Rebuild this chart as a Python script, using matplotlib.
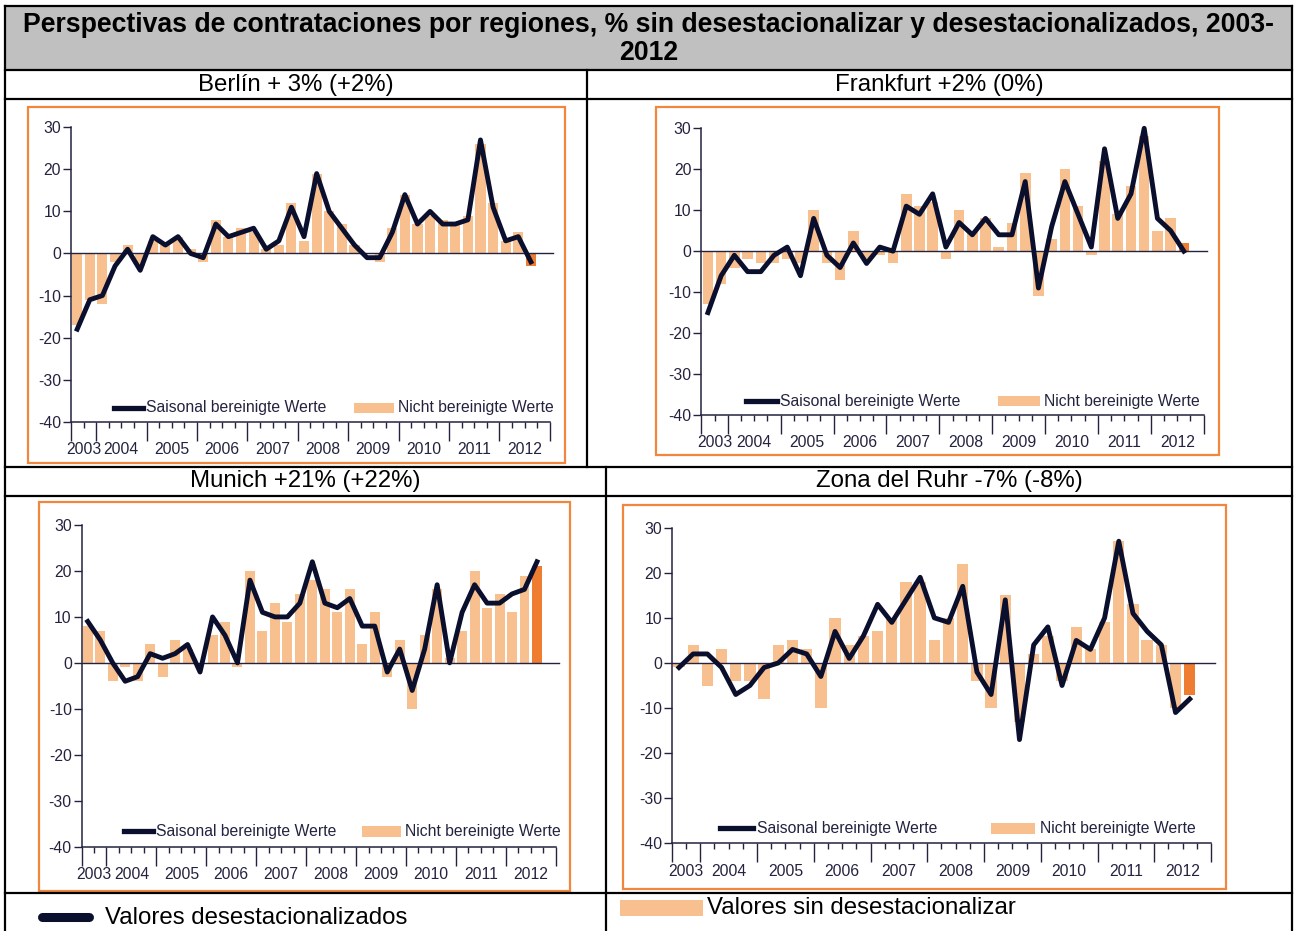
import numpy as np
import matplotlib
matplotlib.use('Agg')
import matplotlib.pyplot as plt
from matplotlib.patches import Rectangle

plt.rcParams['font.family'] = ['Liberation Sans', 'DejaVu Sans']

W, H = 1296, 931

# quarterly values, Q3 2003 .. Q3 2012
berlin_sa = [-18, -11, -10, -3, 1, -4, 4, 2, 4, 0, -1, 7, 4, 5, 6, 1, 3, 11, 4, 19,
             10, 6, 2, -1, -1, 5, 14, 7, 10, 7, 7, 8, 27, 11, 3, 4, -2]
berlin_nsa = [-17, -11, -12, -2, 2, -3, 3, 2, 4, 1, -2, 8, 4, 6, 5, 1, 2, 12, 3, 19,
              10, 7, 2, 0, -2, 6, 14, 7, 9, 8, 7, 9, 26, 12, 3, 5, -3]

frankfurt_sa = [-15, -6, -1, -5, -5, -1, 1, -6, 8, -1, -4, 2, -3, 1, 0, 11, 9, 14, 1, 7,
                4, 8, 4, 4, 17, -9, 6, 17, 9, 1, 25, 8, 14, 30, 8, 5, 0]
frankfurt_nsa = [-13, -8, -4, -2, -3, -3, -2, -3, 10, -3, -7, 5, -2, -1, -3, 14, 11, 12, -2, 10,
                 5, 8, 1, 7, 19, -11, 3, 20, 11, -1, 22, 9, 16, 28, 5, 8, 2]

munich_sa = [9, 5, 0, -4, -3, 2, 1, 2, 4, -2, 10, 6, 0, 18, 11, 10, 10, 13, 22, 13,
             12, 14, 8, 8, -2, 3, -6, 3, 17, 0, 11, 17, 13, 13, 15, 16, 22]
munich_nsa = [8, 7, -4, -1, -4, 4, -3, 5, 3, 0, 6, 9, -1, 20, 7, 13, 9, 15, 18, 16,
              11, 16, 4, 11, -3, 5, -10, 6, 16, 1, 7, 20, 12, 15, 11, 19, 21]

ruhr_sa = [-1, 2, 2, -1, -7, -5, -1, 0, 3, 2, -3, 7, 1, 6, 13, 9, 14, 19, 10, 9,
           17, -2, -7, 14, -17, 4, 8, -5, 5, 3, 10, 27, 11, 7, 4, -11, -8]
ruhr_nsa = [-1, 4, -5, 3, -4, -4, -8, 4, 5, 3, -10, 10, 4, 6, 7, 10, 18, 18, 5, 10,
            22, -4, -10, 15, -13, 2, 6, -4, 8, 3, 9, 27, 13, 5, 4, -10, -7]

years = ['2003', '2004', '2005', '2006', '2007', '2008', '2009', '2010', '2011', '2012']
quarters_per_year = [2, 4, 4, 4, 4, 4, 4, 4, 4, 4]
yticks = [30, 20, 10, 0, -10, -20, -30, -40]

title_1 = 'Perspectivas de contrataciones por regiones, % sin desestacionalizar y desestacionalizados, 2003-'
title_2 = '2012'
panel_titles = ['Berlín + 3% (+2%)', 'Frankfurt +2% (0%)', 'Munich +21% (+22%)', 'Zona del Ruhr -7% (-8%)']
legend_sa = 'Saisonal bereinigte Werte'
legend_nsa = 'Nicht bereinigte Werte'
foot_sa = 'Valores desestacionalizados'
foot_nsa = 'Valores sin desestacionalizar'

navy = '#0b0f2e'
axis_col = '#23233f'
peach = '#f9c08f'
dark_orange = '#ee7d31'
box_orange = '#f0873c'

fig = plt.figure(figsize=(W / 100, H / 100), dpi=100)

# table frame drawn in pixel coordinates
bg = fig.add_axes([0, 0, 1, 1])
bg.set_xlim(0, W)
bg.set_ylim(H, 0)
bg.axis('off')

bg.add_patch(Rectangle((5, 6), 1287, 64, facecolor='#c0c0c0', edgecolor='none', zorder=0))
lw_grid = 1.6
for y in [6, 70, 98.5, 467, 496, 893]:
    bg.plot([5, 1292], [y, y], color='black', lw=lw_grid, solid_capstyle='projecting')
bg.plot([5, 5], [6, H], color='black', lw=lw_grid)
bg.plot([1292, 1292], [6, H], color='black', lw=lw_grid)
bg.plot([587, 587], [70, 467], color='black', lw=lw_grid)
bg.plot([606, 606], [467, H], color='black', lw=lw_grid)

bg.text(648.5, 25, title_1, ha='center', va='center', fontsize=19.2, fontweight='bold')
bg.text(648.5, 53, title_2, ha='center', va='center', fontsize=19.2, fontweight='bold')

bg.text(296, 84.5, panel_titles[0], ha='center', va='center', fontsize=17.3)
bg.text(939.5, 84.5, panel_titles[1], ha='center', va='center', fontsize=17.3)
bg.text(305.5, 481.5, panel_titles[2], ha='center', va='center', fontsize=17.3)
bg.text(949, 481.5, panel_titles[3], ha='center', va='center', fontsize=17.3)

# bottom row legend
bg.plot([41.5, 88.5], [917, 917], color=navy, lw=6.5, solid_capstyle='round')
bg.text(105, 918, foot_sa, ha='left', va='center', fontsize=17.3)
bg.add_patch(Rectangle((620, 900), 83, 16, facecolor=peach, edgecolor='none'))
bg.text(707, 908, foot_nsa, ha='left', va='center', fontsize=17.3)

# orange frames around the charts (x0, x1, ytop, ybottom)
boxes = [(28, 565, 107, 463), (656, 1219, 107, 455), (39, 570, 502, 891), (623, 1226, 505, 889)]
for x0, x1, y0, y1 in boxes:
    bg.add_patch(Rectangle((x0, y0), x1 - x0, y1 - y0, facecolor='none',
                           edgecolor=box_orange, lw=1.6))

# plot areas: x of axis start/end, y of 30 and -40
areas = [(70.9, 549.8, 127.3, 421.7),
         (701.3, 1203.7, 128.3, 415.0),
         (81.5, 555.7, 525.0, 846.7),
         (671.9, 1211.0, 527.7, 843.3)]
series = [(berlin_sa, berlin_nsa), (frankfurt_sa, frankfurt_nsa),
          (munich_sa, munich_nsa), (ruhr_sa, ruhr_nsa)]

n_slots = sum(quarters_per_year)
year_edges = np.concatenate([[0], np.cumsum(quarters_per_year)])
year_mid = (year_edges[:-1] + year_edges[1:]) / 2

for (x0, x1, yt, yb), (sa, nsa) in zip(areas, series):
    ax = fig.add_axes([x0 / W, 1 - yb / H, (x1 - x0) / W, (yb - yt) / H])
    ax.set_facecolor('none')
    ax.set_xlim(0, n_slots)
    ax.set_ylim(-40, 30)

    x = np.arange(len(sa)) + 0.5
    colors = [peach] * (len(nsa) - 1) + [dark_orange]
    ax.bar(x, nsa, width=0.8, color=colors, zorder=2)
    ax.plot([0, n_slots + 0.25], [0, 0], color=axis_col, lw=1.0, zorder=3, clip_on=False)
    ax.plot(x, sa, color=navy, lw=3.5, zorder=4, clip_on=False)

    for s in ['top', 'right']:
        ax.spines[s].set_visible(False)
    for s in ['left', 'bottom']:
        ax.spines[s].set_color(axis_col)
        ax.spines[s].set_linewidth(1.1)

    ax.set_yticks(yticks)
    ax.set_yticklabels([str(v) for v in yticks])
    ax.tick_params(axis='y', direction='out', length=6, width=1, color=axis_col,
                   labelcolor=axis_col, labelsize=11.3, pad=1)

    ax.set_xticks(year_edges)
    ax.set_xticks(np.arange(n_slots + 1), minor=True)
    ax.tick_params(axis='x', which='major', direction='out', length=14, width=1,
                   color=axis_col, labelbottom=False)
    ax.tick_params(axis='x', which='minor', direction='out', length=4.5, width=1,
                   color=axis_col)
    ax.set_xticklabels([])
    for xm, yr in zip(year_mid, years):
        ax.annotate(yr, (xm, 0), xycoords=('data', 'axes fraction'), xytext=(0, -20),
                    textcoords='offset points', ha='center', va='center',
                    fontsize=11.3, color=axis_col)

    # chart legend
    ax.plot([0.089, 0.150], [0.048, 0.048], transform=ax.transAxes, color=navy, lw=3.8,
            clip_on=False, zorder=5)
    ax.text(0.157, 0.048, legend_sa, transform=ax.transAxes, ha='left', va='center',
            fontsize=11.3, color=axis_col)
    ax.add_patch(Rectangle((0.591, 0.031), 0.083, 0.034, transform=ax.transAxes,
                           facecolor=peach, edgecolor='none', clip_on=False))
    ax.text(0.682, 0.048, legend_nsa, transform=ax.transAxes, ha='left', va='center',
            fontsize=11.3, color=axis_col)

fig.savefig('out.png', dpi=100)
